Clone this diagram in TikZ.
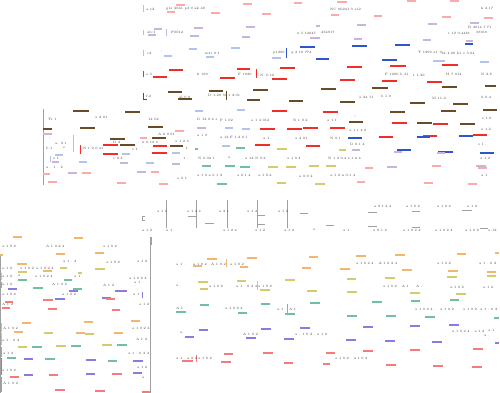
\documentclass[tikz,border=0pt]{standalone}
\definecolor{cpk}{RGB}{250,170,170}
\definecolor{clv}{RGB}{200,180,222}
\definecolor{clb}{RGB}{178,195,238}
\definecolor{cbl}{RGB}{45,85,205}
\definecolor{crd}{RGB}{240,45,40}
\definecolor{cbr}{RGB}{105,75,40}
\definecolor{cor}{RGB}{242,182,112}
\definecolor{col}{RGB}{212,202,112}
\definecolor{ctl}{RGB}{112,192,160}
\definecolor{cpu}{RGB}{140,122,222}
\definecolor{csl}{RGB}{246,122,122}
\definecolor{cgr}{RGB}{160,160,160}
\tikzset{
  ds/.style={line width=1.05pt},
  tk/.style={line width=0.9pt},
  gl/.style={line width=0.7pt,cgr},
  tx/.style={anchor=west,inner sep=0pt,font=\fontsize{3.3}{3.3}\selectfont,text=black!75},
}
\begin{document}
\begin{tikzpicture}[x=1pt,y=-1pt]
\useasboundingbox (0,0) rectangle (500,393);
% ================= TOP BLOCK =================
\foreach \a/\b/\y in {176/185/5,167/175/12,211/220/13,243/252/4,262/271/14,294/302/3,337/347/2,331/339/15,374/382/16,407/416/1,450/459/1,442/451/17,484/493/18}
  \draw[ds,cpk] (\a,\y)--(\b,\y);
\foreach \a/\b/\y in {154/162/29,148/156/35,194/203/28,190/199/36,246/255/27,242/250/37,316/320/26,310/320/38,357/366/25,354/362/39,428/437/24,423/431/40,470/479/23,466/473/41}
  \draw[ds,clv] (\a,\y)--(\b,\y);
\foreach \a/\b/\y in {164/172/56,189/197/49,206/214/57,231/240/48,272/281/58,433/445/61,480/489/62}
  \draw[ds,clb] (\a,\y)--(\b,\y);
\foreach \a/\b/\y in {300/315/47,316/329/59,352/367/46,395/410/45,382/397/60,465/473/44}
  \draw[ds,cbl] (\a,\y)--(\b,\y);
\foreach \a/\b/\y in {169/183/70,153/167/77,220/235/78,237/250/69,280/295/68,272/287/79,347/362/67,390/406/66,340/355/80,382/397/81,427/442/82,442/458/65}
  \draw[ds,crd] (\a,\y)--(\b,\y);
\foreach \a/\b/\y in {168/182/92,178/192/99,209/223/91,253/268/90,247/260/100,289/303/101,321/336/89,340/355/102,372/388/88,410/425/103,442/457/87,453/468/104,485/496/86}
  \draw[ds,cbr] (\a,\y)--(\b,\y);
% row ticks
\draw[tk,cpk] (143,5)--(143,12);
\draw[tk,clv] (143,30)--(143,35);
\draw[tk,clv] (166,29)--(166,36);
\draw[tk,clb] (143,50)--(143,56);
\draw[tk,cbl] (286,48)--(286,58);
\draw[tk,crd] (143,71)--(143,77);
\draw[tk,crd] (256,69)--(256,78);
\draw[tk,cbr] (143,93)--(143,99)--(147,99);
\draw[tk,cbr] (226,91)--(226,100);
% top texts
\foreach \x/\y/\s in {146/9/{a.12},166/9/{g1s 2041 p3.9 ak 40},330/9/{NC 00241.3 s12},481/8/{k 2.17},
  147/32/{ab:1},171/32/{F0012},297/33/{x 5.12847},321/32/{234917},448/33/{r 12 0.4481},468/27/{B 2014 7.71},476/32/{33910},490/36/{.},
  147/53/{cd.},161/52/{'},205/53/{mtr 0.1},273/53/{p1290},291/53/{q 2 10.774},418/52/{T 1290 a1 9},441/53/{12 4.90 k1},463/53/{s 3.04},493/54/{.},
  146/74/{e.3},197/74/{h 190},238/74/{F 1020},260/75/{N. 0.18},385/74/{F 1290 b 31},413/75/{t 1.20},446/74/{H 7 014},481/74/{N 2.8},
  146/96/{f.2},179/97/{al 0.9},208/95/{D 1.20 30},228/95/{1 2.01},359/97/{a 24 11},381/96/{b 1.9},432/98/{M 11.2},481/97/{d 0.4}}
  \node[tx] at (\x,\y) {\s};
% ================= MIDDLE BLOCK =================
\draw[gl] (43,109)--(43,185);
\draw[tk,clv] (73,135)--(73,152);
\draw[tk,crd] (80,145)--(80,154);
\draw[tk,clb] (50,156)--(50,162);
\foreach \a/\b/\y in {73/89/111,125/140/112,43/52/129,80/95/128,148/163/127,110/125/139,120/135/145,152/166/138,170/183/146,349/363/122,390/405/112,441/456/111,483/497/110,417/432/123,460/475/124}
  \draw[ds,cbr] (\a,\y)--(\b,\y);
\foreach \a/\b/\y in {103/118/145,103/118/154,153/167/146,152/167/153,272/287/111,323/338/112,392/407/123,433/448/124,260/275/129,287/302/129,303/318/128,330/345/128,379/393/137,423/437/136,473/487/135,255/270/145,306/320/146}
  \draw[ds,crd] (\a,\y)--(\b,\y);
\foreach \a/\b/\y in {195/203/111,122/130/154,172/180/153,55/63/155,79/87/162,146/154/163,237/245/110,225/233/128,242/250/129,222/230/146}
  \draw[ds,clb] (\a,\y)--(\b,\y);
\foreach \a/\b/\y in {348/362/138,417/430/137,459/473/136,397/411/150,438/453/152,480/494/153}
  \draw[ds,cbl] (\a,\y)--(\b,\y);
\foreach \a/\b/\y in {43/52/134,197/206/128,52/59/162,120/128/163,172/180/164,68/77/173,137/146/172,352/360/150,394/402/152,437/445/153,387/397/167,476/486/166}
  \draw[ds,clv] (\a,\y)--(\b,\y);
\foreach \a/\b/\y in {175/184/131,140/147/138,82/91/173,43/50/174,151/159/172,48/57/182,117/126/183,159/168/184,365/373/168,432/441/166,357/365/182,424/433/183,468/477/184,478/487/168}
  \draw[ds,cpk] (\a,\y)--(\b,\y);
\foreach \a/\b/\y in {195/198/149,202/211/166,217/220/184,236/245/148,225/235/166,240/250/167,220/227/184}
  \draw[ds,ctl] (\a,\y)--(\b,\y);
\foreach \a/\b/\y in {339/346/150,277/287/149,268/278/167,286/296/167,309/319/166,326/336/166,277/286/183,315/325/184}
  \draw[ds,col] (\a,\y)--(\b,\y);
\foreach \x/\y/\s in {48/119/{Tr 1},95/117/{a 2 01},148/119/{12 04},197/119/{D 12 0.4 s},
  49/138/{'},55/143/{a: 0.1},46/148/{b.1},63/148/{e},83/148/{N 1.2 0.41},113/142/{D 2},132/149/{s 1.},113/158/{c 0.2},
  142/142/{n 0.12 6},158/134/{A 2 0.91},175/141/{a 1 2 3},185/148/{1.},197/135/{a 1 9},53/158/{s 1},46/167/{a . 1 . 2},
  183/158/{1 .},198/158/{N 0.02 1},185/168/{.},45/178/{'},177/178/{a 0 1},197/175/{a 1 9 a 0 1 2},
  220/120/{F 1 02},251/120/{a 1 4 012},293/120/{N 1 0.2},327/120/{a 1.1},354/117/{''},482/118/{s 1.0},
  349/130/{a 1.1 4 0},481/129/{a 1.2},220/137/{a 12 F 1.2 0.1},263/138/{a 1.},295/138/{a 4 01},330/138/{N 0.1},
  350/144/{D 0.1 4},478/144/{s 1 .},228/158/{a .},245/158/{a 12 N 0.2},287/158/{a 1 0.4},328/158/{N 1 2 0.4 s 1.2 4},
  480/158/{a 1 2},220/175/{.},237/175/{a 0.1 4},258/175/{a 1 0.4},299/176/{a 0.0 2},330/175/{a 1 2 n 0.1 4},481/175/{a 1.}}
  \node[tx] at (\x,\y) {\s};
% ================= TREE AREA =================
\foreach \x in {166,196,227,257,287} \draw[gl] (\x,200)--(\x,228);
\draw[gl] (145,216)--(142,216)--(142,220)--(145,220);
\draw[gl] (151,237)--(151,245);
\foreach \a/\b/\y in {188/197/216,205/214/223,257/265/215,257/265/224,300/308/213,368/377/212,412/420/211,462/472/210,326/334/225,368/377/226,412/420/227,480/488/228}
  \draw[gl] (\a,\y)--(\b,\y);
\foreach \x/\y/\s in {157/211/{a 1 2},187/211/{a 1 2 4},219/211/{a 2 1},247/211/{a 1 4},278/211/{a 1 2},
  374/206/{a 0.1 2 4},406/206/{a 1 0 2},437/206/{a 1 2 4},467/206/{a 1 2},
  142/230/{a 1 2},166/230/{a 1 .},195/230/{.},223/230/{a 1 2 4},255/230/{a 1 2},284/230/{a 1 2 .},313/230/{a .},
  320/230/{.},343/230/{a 1 .},373/230/{a 0 1 2},403/230/{a 1 0 2 4},435/230/{a 1 0 2 4},465/230/{a 1 0 2},488/230/{a 12}}
  \node[tx] at (\x,\y) {\s};
% ================= BOTTOM LEFT =================
\draw[gl] (150.5,237)--(150.5,393);
\draw[gl] (0.5,255)--(0.5,393);
\draw[tk,col] (1,273)--(1,280);
\draw[tk,ctl] (1,282)--(1,288);
\draw[tk,cor] (1,323)--(1,332);
\draw[tk,col] (1,333)--(1,345);
\draw[tk,ctl] (1,347)--(1,357);
\draw[tk,cpu] (1,358)--(1,375);
\draw[tk,csl] (1,377)--(1,392);
\draw[tk,cpu] (142,292)--(142,298);
\foreach \a/\b/\y in {13/22/237,74/83/238,0/3/255,56/65/254,95/104/253,17/27/264,43/52/271,22/31/323,84/93/322,131/140/321,14/23/332,76/85/333,114/123/333}
  \draw[ds,cor] (\a,\y)--(\b,\y);
\foreach \a/\b/\y in {60/67/268,95/105/269,78/82/273,18/27/272,44/53/333,85/94/334,18/27/347,56/66/346,102/112/345}
  \draw[ds,col] (\a,\y)--(\b,\y);
\foreach \a/\b/\y in {18/27/280,64/72/280,33/43/288,73/82/289,32/42/347,71/81/346,117/127/345,7/16/358,45/55/359,108/117/361}
  \draw[ds,ctl] (\a,\y)--(\b,\y);
\foreach \a/\b/\y in {8/17/289,69/78/291,115/127/291,55/65/299,102/111/298,24/33/359,86/96/360,133/143/361,133/142/373,86/95/374,24/33/375}
  \draw[ds,cpu] (\a,\y)--(\b,\y);
\foreach \a/\b/\y in {5/13/302,43/53/300,106/115/299,2/10/308,48/57/309,112/120/310,10/19/377,49/58/375,112/122/374,55/65/390,95/105/391,142/150/392}
  \draw[ds,csl] (\a,\y)--(\b,\y);
\foreach \x/\y/\s in {2/246/{a 1 0 2},46/246/{A 1 0.2 4},103/246/{a 1 0 2},2/268/{a 1 2},20/268/{a 1 0 2},36/268/{a 1 0 2 4},
  63/261/{a 1 . 2},106/262/{a 1 0 2},137/261/{a 1 2},2/276/{a 1 2},18/276/{a .},35/276/{a 1 0 2 4},74/276/{a 1},
  129/278/{a 1 0 2 4},2/284/{a 1 2},52/284/{A 1 0 2},95/284/{.},103/285/{A 1 2},134/282/{a 1 .},2/294/{a 1 0 2},
  20/294/{.},62/294/{a 1 0 2},133/294/{a 1 .},2/304/{A 1 2},139/304/{a 1 2},3/328/{A 1 0 2},132/328/{a 1 0 2 4},
  2/340/{a 1 . 0 2 .},136/339/{A 1 2},3/353/{a 1 2},128/353/{a 1 . 0 2 4},20/364/{.},2/370/{a 1 0 2},137/367/{a 1 2},
  3/383/{A 1 0 2},142/378/{a .},133/384/{.}}
  \node[tx] at (\x,\y) {\s};
% ================= BOTTOM RIGHT =================
\draw[tk,cor] (226,259)--(226,267);
\draw[tk,col] (257,281)--(257,290);
\draw[tk,ctl] (287,304)--(287,314);
\draw[tk,csl] (196,355)--(196,362);
\foreach \a/\b/\y in {207/217/259,247/257/258,240/248/267,193/202/266,309/318/257,302/311/268,356/366/256,395/405/255,340/350/269,402/412/270,457/466/254,448/458/271,487/496/272,495/499/253}
  \draw[ds,cor] (\a,\y)--(\b,\y);
\foreach \a/\b/\y in {198/208/282,200/208/289,237/246/281,285/295/280,260/270/290,307/317/291,347/356/279,385/395/278,447/457/277,487/496/276,347/357/292,410/420/293,456/466/294}
  \draw[ds,col] (\a,\y)--(\b,\y);
\foreach \a/\b/\y in {200/209/305,176/186/312,238/247/313,261/270/304,310/320/303,285/295/314,372/382/302,411/420/301,450/459/300,347/357/316,386/396/316,425/435/317,494/499/318}
  \draw[ds,ctl] (\a,\y)--(\b,\y);
\foreach \a/\b/\y in {199/208/330,185/194/337,261/271/329,246/256/338,300/310/328,284/294/339,363/373/327,410/420/326,449/459/325,346/356/340,385/395/341,432/442/342,495/499/343}
  \draw[ds,cpu] (\a,\y)--(\b,\y);
\foreach \a/\b/\y in {224/233/354,221/231/362,263/273/353,284/293/363,326/335/353,323/330/364,182/193/361,363/373/351,410/420/350,473/483/349,386/396/365,433/443/366,472/482/367}
  \draw[ds,csl] (\a,\y)--(\b,\y);
\foreach \x/\y/\s in {176/264/{a 1 .},193/264/{a 1 0 2},211/264/{A 1 0 2 .},230/264/{a 1 0 2},356/263/{a 1 0 2 4 . A 1 0 2 4},
  437/263/{a 1 0 2},479/263/{a 1 . 0 2},176/286/{a .},209/286/{a 1 0 2},236/286/{a 1 . 0 2 4},258/286/{a 1 0 2},
  383/286/{a 1 0 2 . A 1},416/286/{A .},450/287/{a 1 0 2},483/287/{a 1 2},176/308/{A 1},225/308/{a 1 0 2 4},269/308/{.},
  277/309/{a 1},289/309/{A 1 .},415/309/{a 1 0 2 4 .},440/309/{a 1 0 2},463/309/{a 1 0 2},480/309/{a 1 . 0 2},
  180/333/{a.},243/334/{A 1 0 2},295/334/{a . 1 0 2 . a 1 2 .},452/331/{a 1 0 2 4 . a 1 2},488/330/{a 1 .},
  484/336/{a .},445/337/{.},176/358/{a 1 . a 0 2},198/358/{a 1 0 2},335/358/{a 1 0 2 . a 1 0 2},490/353/{.}}
  \node[tx] at (\x,\y) {\s};
\end{tikzpicture}
\end{document}
